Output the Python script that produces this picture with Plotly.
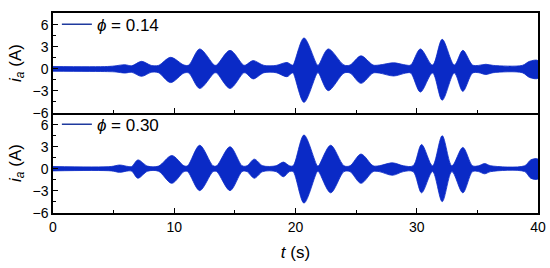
import plotly.graph_objects as go
from plotly.subplots import make_subplots

# envelope of the armature current i_a
T_014 = [0, 4.5, 5.2, 5.9, 6.5, 7.3, 8.1, 8.7, 9.7, 10.8, 11.2, 12.1, 13.3, 13.5,
         14.6, 15.7, 15.9, 16.5, 17.4, 18.4, 19.3, 19.7, 19.8, 20.7, 21.8, 21.9,
         22.7, 24.0, 24.5, 25.4, 26.4, 26.9, 28.1, 29.1, 29.5, 30.3, 31.3, 32.1,
         33.1, 33.8, 34.6, 35.1, 35.7, 36.3, 38.7, 39.3, 40]
UP_014 = [0.3, 0.3, 0.4, 0.55, 0.4, 1.0, 0.45, 0.45, 1.55, 0.5, 0.5, 2.7, 0.5, 0.5,
          2.5, 0.5, 0.5, 1.1, 0.45, 0.45, 0.85, 0.5, 0.5, 4.2, 0.5, 0.5,
          2.7, 0.5, 0.5, 1.75, 0.5, 0.5, 0.8, 0.5, 0.5, 2.7, 0.5, 4.0,
          0.5, 2.5, 0.5, 0.45, 0.6, 0.45, 0.45, 1.0, 1.1]
LO_014 = [-0.35, -0.4, -0.45, -0.6, -0.5, -1.05, -0.5, -0.55, -1.9, -0.6, -0.6, -2.7, -0.6, -0.6,
          -2.7, -0.6, -0.6, -1.4, -0.55, -0.55, -1.1, -0.6, -0.6, -4.6, -0.6, -0.6,
          -3.0, -0.6, -0.6, -2.0, -0.6, -0.6, -1.0, -0.6, -0.6, -3.2, -0.6, -4.3,
          -0.6, -3.1, -0.6, -0.55, -0.8, -0.55, -0.55, -1.2, -1.3]

T_030 = [0, 4.8, 5.5, 6.2, 6.5, 7.0, 7.8, 8.7, 9.8, 10.8, 11.1, 12.1, 13.2, 13.5,
         14.6, 15.6, 16.0, 16.6, 17.3, 18.4, 19.0, 19.5, 19.8, 20.7, 21.8, 21.9,
         22.9, 24.0, 24.5, 25.4, 26.4, 26.9, 28.0, 28.9, 29.7, 30.4, 31.3, 32.1,
         32.9, 33.8, 34.6, 35.1, 35.6, 36.1, 38.9, 39.4, 40]
UP_030 = [0.3, 0.3, 0.5, 0.3, 0.3, 1.2, 0.35, 0.35, 1.8, 0.4, 0.4, 3.2, 0.4, 0.4,
          3.0, 0.4, 0.4, 1.3, 0.4, 0.4, 0.9, 0.4, 0.4, 4.6, 0.4, 0.4,
          3.2, 0.4, 0.4, 2.0, 0.4, 0.4, 0.8, 0.4, 0.4, 3.3, 0.4, 4.5,
          0.4, 2.9, 0.4, 0.4, 0.7, 0.4, 0.4, 1.2, 1.3]
LO_030 = [-0.3, -0.3, -0.5, -0.3, -0.35, -1.3, -0.35, -0.35, -2.0, -0.4, -0.4, -3.0, -0.4, -0.4,
          -3.0, -0.4, -0.4, -1.3, -0.4, -0.4, -1.1, -0.4, -0.4, -4.7, -0.4, -0.4,
          -3.3, -0.4, -0.4, -2.0, -0.4, -0.4, -0.9, -0.4, -0.4, -3.3, -0.4, -4.5,
          -0.4, -3.3, -0.4, -0.4, -0.7, -0.4, -0.4, -1.3, -1.4]

Y_TICKS = [-6, -3, 0, 3, 6]
X_TICKS = [0, 10, 20, 30, 40]

FILL = "#0a2ac6"
LEG = "#1f3a9e"
FONT = "Liberation Sans, Arial, sans-serif"

fig = make_subplots(rows=2, cols=1, shared_xaxes=True, vertical_spacing=0)

panels = [
    (T_014, UP_014, LO_014, "<i>ϕ</i> = 0.14", "legend"),
    (T_030, UP_030, LO_030, "<i>ϕ</i> = 0.30", "legend2"),
]
for row, (t, up, lo, label, leg) in enumerate(panels, start=1):
    fig.add_trace(
        go.Scatter(
            x=t + t[::-1],
            y=up + lo[::-1],
            mode="lines",
            fill="toself",
            fillcolor=FILL,
            line=dict(color=FILL, width=0.8, shape="spline", smoothing=0.9),
            showlegend=False,
            hoverinfo="skip",
        ),
        row=row,
        col=1,
    )
    # legend entry only
    fig.add_trace(
        go.Scatter(
            x=[None],
            y=[None],
            mode="lines",
            name=label,
            line=dict(color=LEG, width=1.5),
            legend=leg,
        ),
        row=row,
        col=1,
    )

axis_style = dict(
    showline=True,
    linecolor="black",
    linewidth=1.5,
    ticks="inside",
    ticklen=5,
    tickwidth=1.2,
    tickcolor="black",
    showgrid=False,
    zeroline=False,
    automargin=False,
    tickfont=dict(size=14, color="black", family=FONT),
)

fig.update_xaxes(
    range=[0, 40],
    tickvals=X_TICKS,
    minor=dict(ticks="inside", ticklen=3, tickcolor="black", dtick=5, tick0=0),
    **axis_style,
)
# top panel draws the shared middle border; bottom panel only its own bottom line
fig.update_xaxes(showticklabels=False, mirror=True, row=1, col=1)
fig.update_xaxes(
    mirror=False,
    title=dict(text="<i>t</i> (s)", font=dict(size=17, color="black", family=FONT), standoff=13),
    row=2,
    col=1,
)
fig.update_yaxes(
    range=[-6.05, 7.6],
    tickvals=Y_TICKS,
    mirror=True,
    minor=dict(ticks="inside", ticklen=3, tickcolor="black", dtick=1.5, tick0=0),
    title=dict(text="<i>i<sub>a</sub></i> (A)", font=dict(size=17, color="black", family=FONT), standoff=7),
    **axis_style,
)

legend_style = dict(
    x=0.008,
    xanchor="left",
    yanchor="middle",
    bgcolor="rgba(0,0,0,0)",
    borderwidth=0,
    font=dict(size=17, color="black", family=FONT),
    itemwidth=30,
    tracegroupgap=0,
)
fig.update_layout(
    width=550,
    height=268,
    margin=dict(l=53, r=12, t=7, b=55),
    plot_bgcolor="white",
    paper_bgcolor="white",
    font=dict(family=FONT, color="black"),
    legend=dict(y=0.942, **legend_style),
    legend2=dict(y=0.442, **legend_style),
)

fig.write_html(
    "out.html",
    config={"displayModeBar": False},
    post_script="document.body.style.margin='0';",
)
